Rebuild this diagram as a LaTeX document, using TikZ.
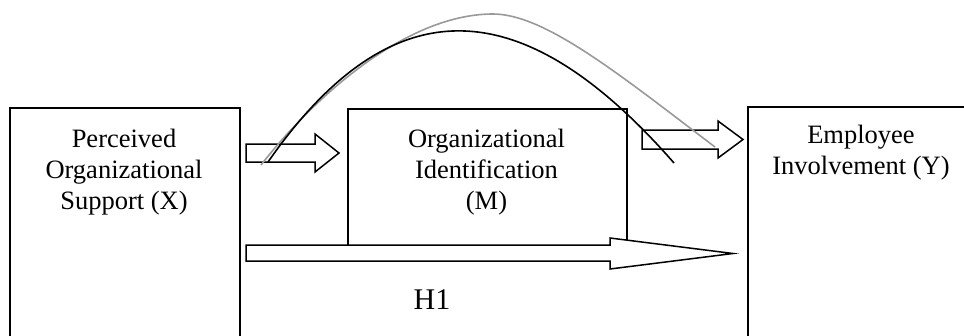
\documentclass[tikz,border=0pt]{standalone}
\usepackage{fontspec}
\setmainfont{Liberation Serif}
\begin{document}
\begin{tikzpicture}[x=1pt,y=-1pt,
  boxline/.style={draw=black,line width=1.5pt,inner sep=0pt,anchor=north west},
  blockarrow/.style={draw=black,fill=white,line width=1.5pt,line join=miter},
  lbl/.style={font=\fontsize{26.5}{31}\selectfont,inner sep=0pt,anchor=base},
  hlbl/.style={font=\fontsize{30}{36}\selectfont,inner sep=0pt,anchor=base},
  curveblack/.style={draw=black,line width=1.6pt},
  curvegray/.style={draw=black!40,line width=1.6pt}]
\clip (0,0) rectangle (964,335);
% boxes
\node[boxline,minimum width=230pt,minimum height=250pt] (boxX) at (9,107) {};
\node[boxline,minimum width=279pt,minimum height=137pt] (boxM) at (347,108) {};
\node[boxline,minimum width=230pt,minimum height=250pt] (boxY) at (747,106) {};
% labels
\node[lbl] (lblX) at (124,147) {\begin{tabular}[t]{@{}c@{}}Perceived\\Organizational\\Support (X)\end{tabular}};
\node[lbl] (lblM) at (486.5,147) {\begin{tabular}[t]{@{}c@{}}Organizational\\Identification\\(M)\end{tabular}};
\node[lbl] (lblY) at (861,143) {\begin{tabular}[t]{@{}c@{}}Employee\\Involvement (Y)\end{tabular}};
\node[hlbl] (lblH) at (432,309) {H1};
% block arrows
\draw[blockarrow] (246,245) -- (610,245) -- (610,238) -- (733,253.5) -- (610,269) -- (610,261) -- (246,261) -- cycle;
\draw[blockarrow] (246,144) -- (315,144) -- (315,134) -- (339,153) -- (315,172) -- (315,162) -- (246,162) -- cycle;
\draw[blockarrow] (642,130) -- (718,130) -- (718,121) -- (743,139.5) -- (718,158) -- (718,149) -- (642,149) -- cycle;
% curves
\coordinate (gs) at (261,165);
\coordinate (gp) at (493,14);
\coordinate (ge) at (715,147);
\coordinate (bs) at (268,162);
\coordinate (be) at (674,163);
\draw[curvegray] (gs) .. controls (320,90) and (410,14) .. (gp) .. controls (545,14) and (620,75) .. (ge);
\draw[curveblack] (bs) .. controls (390,-13) and (520,-13) .. (be);
\end{tikzpicture}
\end{document}
